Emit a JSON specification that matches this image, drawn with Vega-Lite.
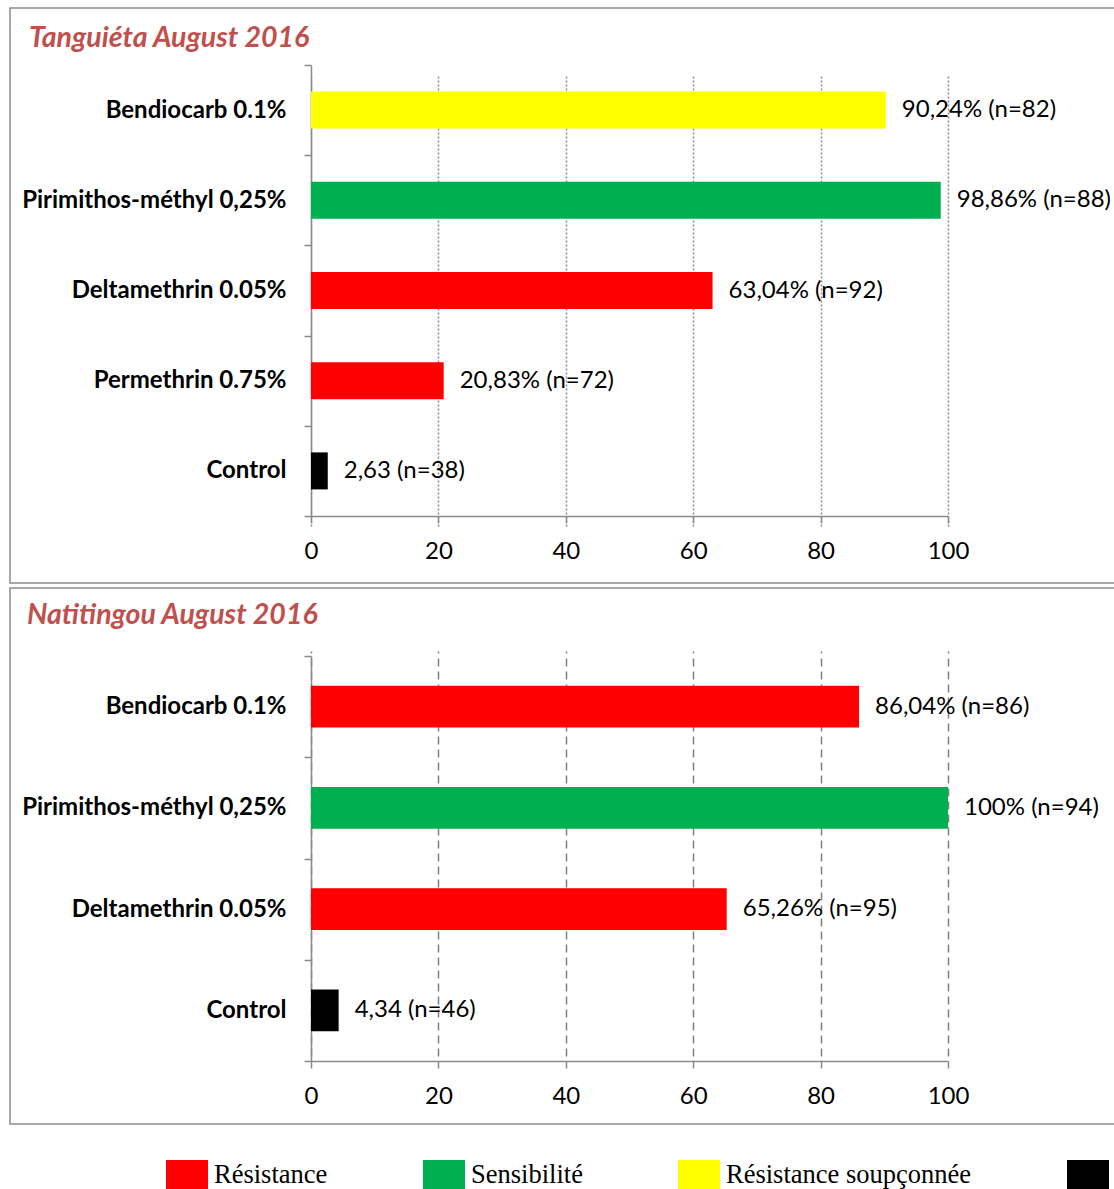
{
  "$schema": "https://vega.github.io/schema/vega-lite/v6.json",
  "padding": {"left": 9, "top": -5, "right": 0, "bottom": 0},
  "spacing": -9,
  "datasets": {
    "tanguieta": [
      {"insecticide": "Bendiocarb 0.1%", "mortality": 90.24, "status": "Résistance soupçonnée", "label": "90,24% (n=82)"},
      {"insecticide": "Pirimithos-méthyl 0,25%", "mortality": 98.86, "status": "Sensibilité", "label": "98,86% (n=88)"},
      {"insecticide": "Deltamethrin 0.05%", "mortality": 63.04, "status": "Résistance", "label": "63,04% (n=92)"},
      {"insecticide": "Permethrin 0.75%", "mortality": 20.83, "status": "Résistance", "label": "20,83% (n=72)"},
      {"insecticide": "Control", "mortality": 2.63, "status": "Témoin", "label": "2,63 (n=38)"}
    ],
    "natitingou": [
      {"insecticide": "Bendiocarb 0.1%", "mortality": 86.04, "status": "Résistance", "label": "86,04% (n=86)"},
      {"insecticide": "Pirimithos-méthyl 0,25%", "mortality": 100, "status": "Sensibilité", "label": "100% (n=94)"},
      {"insecticide": "Deltamethrin 0.05%", "mortality": 65.26, "status": "Résistance", "label": "65,26% (n=95)"},
      {"insecticide": "Control", "mortality": 4.34, "status": "Témoin", "label": "4,34 (n=46)"}
    ]
  },
  "config": {
    "font": "Lato",
    "view": {"stroke": "#8c8c8c", "strokeWidth": 1.5},
    "axis": {
      "domainColor": "#8a8a8a",
      "domainWidth": 1.5,
      "tickColor": "#8a8a8a",
      "tickWidth": 1.5,
      "tickSize": 7,
      "labelColor": "#000000",
      "labelFont": "Lato",
      "labelFontSize": 24,
      "labelLimit": 400
    },
    "title": {
      "anchor": "start",
      "frame": "group",
      "font": "Lato",
      "fontSize": 28.5,
      "fontStyle": "italic",
      "fontWeight": "bold",
      "color": "#C0504D",
      "baseline": "alphabetic"
    }
  },
  "vconcat": [
    {
      "width": 1105,
      "height": 575,
      "title": {"text": "Tanguiéta August 2016", "offset": -56, "dx": 19},
      "data": {"name": "tanguieta"},
      "encoding": {
        "y": {
          "field": "insecticide", "type": "nominal", "sort": null,
          "scale": {"range": [57, 508], "paddingInner": 0, "paddingOuter": 0},
          "axis": {"title": null, "offset": -301, "tickBand": "extent", "labelFontWeight": "bold", "labelPadding": 18}
        },
        "x": {
          "field": "mortality", "type": "quantitative",
          "scale": {"domain": [0, 100], "range": [301, 938], "nice": false},
          "axis": {"title": null, "offset": -67, "values": [0, 20, 40, 60, 80, 100], "labelFlush": false, "labelPadding": 16,
                   "grid": true, "gridDash": [2, 2], "gridColor": "#8c8c8c", "gridWidth": 1.5}
        }
      },
      "layer": [
        {
          "mark": {"type": "bar", "height": {"band": 0.41}},
          "encoding": {
            "color": {
              "field": "status", "type": "nominal",
              "scale": {"domain": ["Résistance", "Sensibilité", "Résistance soupçonnée", "Témoin"], "range": ["#FF0000", "#00B050", "#FFFF00", "#000000"]},
              "legend": {"orient": "none", "legendX": 156, "legendY": 1146, "direction": "horizontal", "title": null,
                         "symbolType": "M-1,-0.714H1V0.714H-1Z", "symbolSize": 1764, "symbolStrokeWidth": 0,
                         "labelFont": "Liberation Serif", "labelFontSize": 26.5, "labelColor": "#000000", "labelOffset": 6,
                         "columnPadding": 95, "labelLimit": 400}
            }
          }
        },
        {
          "mark": {"type": "text", "align": "left", "baseline": "middle", "dx": 16, "fontSize": 24, "color": "#000000"},
          "encoding": {"text": {"field": "label"}}
        }
      ]
    },
    {
      "width": 1105,
      "height": 536,
      "title": {"text": "Natitingou August 2016", "offset": -53, "dx": 17},
      "data": {"name": "natitingou"},
      "encoding": {
        "y": {
          "field": "insecticide", "type": "nominal", "sort": null,
          "scale": {"range": [68, 473], "paddingInner": 0, "paddingOuter": 0},
          "axis": {"title": null, "offset": -301, "tickBand": "extent", "labelFontWeight": "bold", "labelPadding": 18}
        },
        "x": {
          "field": "mortality", "type": "quantitative",
          "scale": {"domain": [0, 100], "range": [301, 938], "nice": false},
          "axis": {"title": null, "offset": -63, "values": [0, 20, 40, 60, 80, 100], "labelFlush": false, "labelPadding": 16,
                   "grid": true, "gridDash": [8, 5], "gridColor": "#7f7f7f", "gridWidth": 1.5}
        }
      },
      "layer": [
        {
          "mark": {"type": "bar", "height": {"band": 0.41}},
          "encoding": {
            "color": {
              "field": "status", "type": "nominal",
              "scale": {"domain": ["Résistance", "Sensibilité", "Résistance soupçonnée", "Témoin"], "range": ["#FF0000", "#00B050", "#FFFF00", "#000000"]},
              "legend": {"orient": "none", "legendX": 156, "legendY": 1146, "direction": "horizontal", "title": null,
                         "symbolType": "M-1,-0.714H1V0.714H-1Z", "symbolSize": 1764, "symbolStrokeWidth": 0,
                         "labelFont": "Liberation Serif", "labelFontSize": 26.5, "labelColor": "#000000", "labelOffset": 6,
                         "columnPadding": 95, "labelLimit": 400}
            }
          }
        },
        {
          "mark": {"type": "text", "align": "left", "baseline": "middle", "dx": 16, "fontSize": 24, "color": "#000000"},
          "encoding": {"text": {"field": "label"}}
        }
      ]
    }
  ]
}
